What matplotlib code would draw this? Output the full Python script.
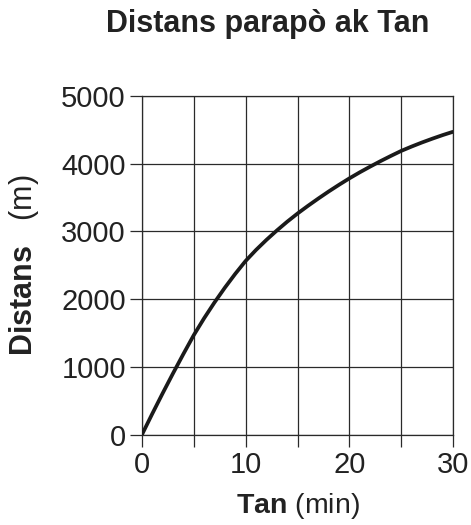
import matplotlib.pyplot as plt

plt.rcParams['font.family'] = ['Liberation Sans', 'DejaVu Sans']
plt.rcParams['mathtext.fontset'] = 'custom'
plt.rcParams['mathtext.rm'] = 'Liberation Sans'
plt.rcParams['mathtext.bf'] = 'Liberation Sans:bold'

# Done yo li sou grafik la (tan an minit, distans an mèt)
tan = list(range(0, 31))
distans = [0, 310, 612, 906, 1192, 1470, 1720, 1953, 2171, 2375, 2565,
           2727, 2875, 3013, 3143, 3264, 3377, 3485, 3589, 3688, 3783,
           3872, 3956, 4037, 4114, 4188, 4252, 4312, 4368, 4421, 4470]

x_ticks = [0, 5, 10, 15, 20, 25, 30]
x_labels = ['0', '', '10', '', '20', '', '30']
y_ticks = [0, 1000, 2000, 3000, 4000, 5000]

fig = plt.figure(figsize=(4.71, 5.25), dpi=100)
ax = fig.add_axes([0.301, 0.1714, 0.6615, 0.6463])

lc = '#2a2a2a'
ax.plot(tan, distans, color='#1a1a1a', lw=2.7, solid_capstyle='butt', zorder=3)

ax.set_xlim(0, 30)
ax.set_ylim(0, 5000)
ax.set_xticks(x_ticks)
ax.set_xticklabels(x_labels)
ax.set_yticks(y_ticks)
ax.grid(True, color=lc, lw=0.9)
for s in ax.spines.values():
    s.set_color(lc)
    s.set_linewidth(0.9)
ax.tick_params(direction='out', length=8.5, width=0.9, color=lc, labelsize=21,
               labelcolor='#222222', pad=3)

ax.set_xlabel(r'$\mathbf{Tan}$ (min)', fontsize=20.5, color='#222222', labelpad=9)
ax.set_ylabel(r'$\mathbf{Distans}$   (m)', fontsize=22, color='#222222')
ax.yaxis.set_label_coords(-0.322, 0.5)

fig.text(0.568, 0.954, 'Distans parapò ak Tan', fontsize=22, fontweight='bold',
         ha='center', va='center', color='#222222')

plt.savefig('out.png', dpi=100)
